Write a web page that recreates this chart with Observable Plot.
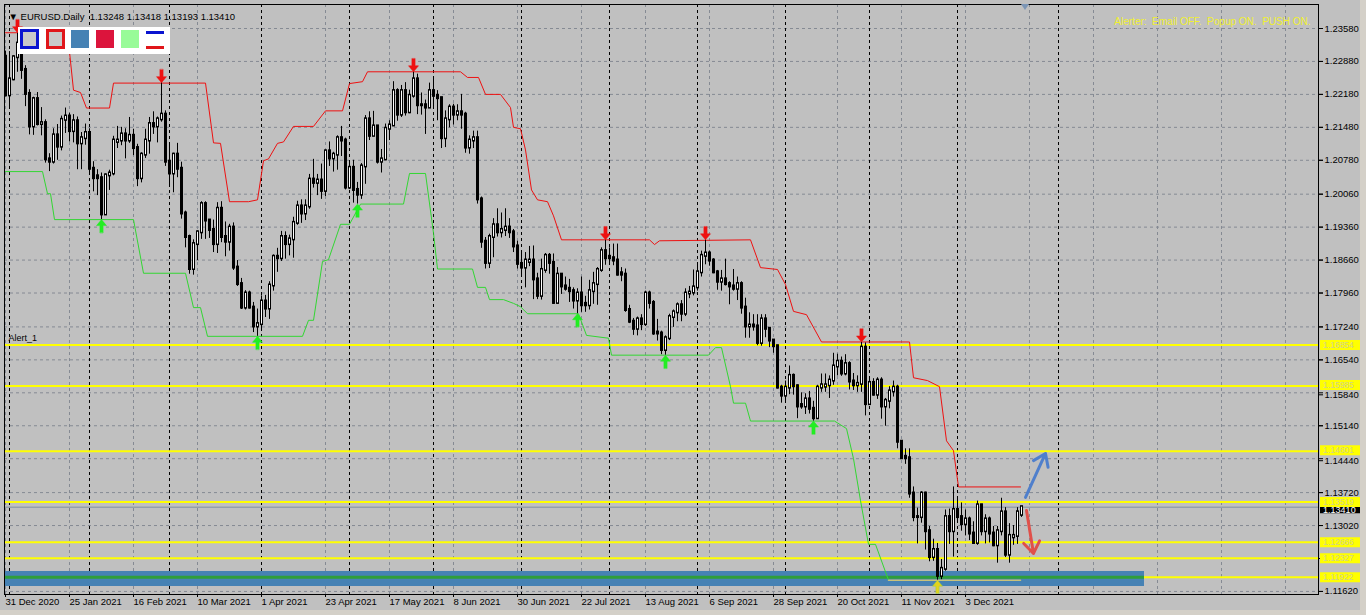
<!DOCTYPE html>
<html><head><meta charset="utf-8">
<script src="https://cdn.jsdelivr.net/npm/d3@7"></script>
<script src="https://cdn.jsdelivr.net/npm/@observablehq/plot@0.6"></script>
<style>
html,body{margin:0;padding:0;background:#c0c0c0;overflow:hidden}
#wrap{position:relative;width:1366px;height:615px}
#wrap svg{display:block}
.ov{position:absolute;box-sizing:border-box}
</style></head><body><div id="wrap"></div>
<script>
// ---- data (EURUSD Daily, bar index 0 = 31 Dec 2020) ----
const opens = [
1.2298,1.2216,1.2250,1.2297,1.2326,1.2270,1.2219,1.2150,1.2208,1.2155,
1.2157,1.2080,1.2075,1.2131,1.2107,1.2164,1.2171,1.2140,1.2161,1.2114,
1.2125,1.2136,1.2060,1.2044,1.2040,1.1963,1.2046,1.2050,1.2117,1.2120,
1.2133,1.2120,1.2130,1.2104,1.2040,1.2090,1.2120,1.2155,1.2150,1.2165,
1.2175,1.2075,1.2050,1.2090,1.2060,1.1965,1.1915,1.1847,1.1900,1.1925,
1.1985,1.1950,1.1930,1.1900,1.1975,1.1915,1.1905,1.1935,1.1850,1.1815,
1.1765,1.1795,1.1765,1.1725,1.1730,1.1778,1.1763,1.1812,1.1873,1.1870,
1.1915,1.1900,1.1910,1.1945,1.1980,1.1965,1.1980,1.2037,1.2030,1.2035,
1.2013,1.2097,1.2082,1.2090,1.2125,1.2120,1.2020,1.2062,1.2015,1.2005,
1.2065,1.2165,1.2130,1.2150,1.2075,1.2080,1.2145,1.2152,1.2225,1.2175,
1.2225,1.2180,1.2215,1.2250,1.2195,1.2195,1.2190,1.2225,1.2215,1.2210,
1.2125,1.2165,1.2190,1.2175,1.2180,1.2175,1.2105,1.2120,1.2125,1.1995,
1.1905,1.1860,1.1915,1.1940,1.1925,1.1930,1.1935,1.1925,1.1895,1.1858,
1.1850,1.1862,1.1865,1.1825,1.1790,1.1845,1.1875,1.1860,1.1775,1.1835,
1.1810,1.1805,1.1800,1.1780,1.1795,1.1773,1.1770,1.1800,1.1815,1.1845,
1.1885,1.1873,1.1870,1.1865,1.1838,1.1835,1.1760,1.1735,1.1720,1.1740,
1.1730,1.1795,1.1775,1.1712,1.1710,1.1675,1.1700,1.1745,1.1755,1.1770,
1.1752,1.1795,1.1797,1.1808,1.1840,1.1875,1.1880,1.1865,1.1840,1.1820,
1.1825,1.1815,1.1810,1.1805,1.1815,1.1765,1.1725,1.1727,1.1725,1.1690,
1.1740,1.1720,1.1695,1.1683,1.1595,1.1578,1.1595,1.1620,1.1598,1.1558,
1.1555,1.1570,1.1550,1.1530,1.1595,1.1597,1.1600,1.1610,1.1640,1.1650,
1.1625,1.1645,1.1608,1.1600,1.1603,1.1680,1.1560,1.1605,1.1580,1.1610,
1.1555,1.1567,1.1587,1.1595,1.1480,1.1448,1.1445,1.1370,1.1320,1.1320,
1.1370,1.1290,1.1235,1.1250,1.1195,1.1210,1.1320,1.1290,1.1335,1.1320,
1.1305,1.1315,1.1285,1.1265,1.1345,1.1290,1.1315,1.1285,1.1260,1.1290,
1.1330,1.1240,1.1277,1.1280,1.13248];
const highs = [
1.2310,1.2309,1.2300,1.2349,1.2344,1.2279,1.2228,1.2212,1.2222,1.2190,
1.2164,1.2092,1.2145,1.2154,1.2172,1.2189,1.2178,1.2175,1.2170,1.2137,
1.2155,1.2145,1.2075,1.2058,1.2051,1.2049,1.2057,1.2129,1.2150,1.2148,
1.2145,1.2169,1.2144,1.2112,1.2094,1.2144,1.2169,1.2181,1.2170,1.2243,
1.2183,1.2113,1.2093,1.2114,1.2074,1.1970,1.1919,1.1909,1.1928,1.1990,
1.1990,1.1952,1.1951,1.1988,1.1990,1.1947,1.1942,1.1945,1.1865,1.1827,
1.1801,1.1800,1.1776,1.1762,1.1790,1.1791,1.1820,1.1877,1.1891,1.1927,
1.1926,1.1919,1.1957,1.1991,1.1994,1.1994,1.2048,1.2080,1.2048,1.2070,
1.2100,1.2117,1.2095,1.2130,1.2150,1.2125,1.2076,1.2078,1.2031,1.2071,
1.2173,1.2181,1.2182,1.2152,1.2101,1.2155,1.2162,1.2245,1.2230,1.2237,
1.2243,1.2227,1.2266,1.2261,1.2221,1.2206,1.2242,1.2254,1.2226,1.2212,
1.2183,1.2196,1.2197,1.2196,1.2218,1.2180,1.2130,1.2140,1.2140,1.2000,
1.1914,1.1921,1.1954,1.1975,1.1966,1.1975,1.1954,1.1931,1.1906,1.1880,
1.1882,1.1895,1.1896,1.1838,1.1868,1.1880,1.1880,1.1879,1.1850,1.1837,
1.1830,1.1825,1.1807,1.1805,1.1830,1.1789,1.1823,1.1840,1.1850,1.1892,
1.1909,1.1892,1.1900,1.1900,1.1850,1.1847,1.1770,1.1742,1.1745,1.1750,
1.1800,1.1800,1.1780,1.1740,1.1715,1.1705,1.1751,1.1760,1.1775,1.1780,
1.1805,1.1810,1.1845,1.1857,1.1885,1.1909,1.1885,1.1869,1.1844,1.1844,
1.1868,1.1820,1.1846,1.1830,1.1820,1.1785,1.1754,1.1750,1.1750,1.1750,
1.1750,1.1722,1.1697,1.1685,1.1600,1.1609,1.1641,1.1624,1.1601,1.1584,
1.1582,1.1587,1.1566,1.1600,1.1624,1.1624,1.1620,1.1668,1.1666,1.1660,
1.1665,1.1650,1.1625,1.1620,1.1692,1.1690,1.1616,1.1614,1.1616,1.1616,
1.1572,1.1597,1.1609,1.1600,1.1482,1.1465,1.1465,1.1384,1.1339,1.1374,
1.1373,1.1300,1.1273,1.1264,1.1230,1.1335,1.1337,1.1384,1.1361,1.1350,
1.1335,1.1320,1.1310,1.1354,1.1347,1.1325,1.1320,1.1300,1.1300,1.1360,
1.1340,1.1306,1.1302,1.1340,1.13418];
const lows = [
1.2213,1.2190,1.2247,1.2265,1.2250,1.2192,1.2132,1.2131,1.2151,1.2130,
1.2072,1.2054,1.2070,1.2078,1.2098,1.2135,1.2117,1.2115,1.2058,1.2058,
1.2110,1.2050,1.2011,1.2003,1.1952,1.1962,1.2014,1.2045,1.2103,1.2109,
1.2081,1.2114,1.2088,1.2022,1.2030,1.2082,1.2091,1.2133,1.2115,1.2159,
1.2065,1.2025,1.2009,1.2041,1.1953,1.1892,1.1836,1.1834,1.1865,1.1910,
1.1910,1.1912,1.1882,1.1880,1.1903,1.1873,1.1885,1.1844,1.1810,1.1761,
1.1760,1.1762,1.1712,1.1704,1.1720,1.1744,1.1740,1.1800,1.1840,1.1863,
1.1868,1.1875,1.1870,1.1940,1.1944,1.1950,1.1974,1.2019,1.2003,1.1995,
1.2001,1.2065,1.2053,1.2057,1.2086,1.2015,1.2016,1.1987,1.1985,1.1995,
1.2027,1.2120,1.2128,1.2070,1.2051,1.2077,1.2120,1.2150,1.2161,1.2169,
1.2172,1.2177,1.2210,1.2175,1.2174,1.2133,1.2190,1.2192,1.2162,1.2103,
1.2105,1.2147,1.2153,1.2162,1.2144,1.2093,1.2091,1.2103,1.1985,1.1891,
1.1847,1.1848,1.1871,1.1915,1.1913,1.1916,1.1912,1.1882,1.1847,1.1835,
1.1807,1.1852,1.1782,1.1782,1.1781,1.1838,1.1836,1.1772,1.1773,1.1793,
1.1800,1.1776,1.1762,1.1752,1.1755,1.1755,1.1760,1.1772,1.1770,1.1840,
1.1855,1.1858,1.1854,1.1832,1.1820,1.1755,1.1731,1.1706,1.1705,1.1716,
1.1725,1.1762,1.1706,1.1694,1.1665,1.1664,1.1695,1.1723,1.1735,1.1735,
1.1746,1.1784,1.1790,1.1800,1.1830,1.1856,1.1853,1.1837,1.1802,1.1800,
1.1811,1.1771,1.1800,1.1780,1.1751,1.1700,1.1700,1.1715,1.1684,1.1683,
1.1701,1.1680,1.1668,1.1592,1.1562,1.1562,1.1580,1.1579,1.1529,1.1549,
1.1538,1.1539,1.1524,1.1530,1.1585,1.1585,1.1572,1.1600,1.1620,1.1619,
1.1620,1.1590,1.1589,1.1585,1.1585,1.1535,1.1560,1.1577,1.1570,1.1528,
1.1513,1.1550,1.1575,1.1465,1.1443,1.1432,1.1360,1.1310,1.1263,1.1307,
1.1250,1.1225,1.1226,1.1186,1.1187,1.1205,1.1262,1.1235,1.1310,1.1290,
1.1280,1.1270,1.1262,1.1260,1.1280,1.1263,1.1265,1.1257,1.1222,1.1280,
1.1234,1.1222,1.1260,1.1262,1.13193];
const closes = [
1.2216,1.2250,1.2297,1.2326,1.2270,1.2219,1.2150,1.2208,1.2155,1.2157,
1.2080,1.2075,1.2131,1.2107,1.2164,1.2171,1.2140,1.2161,1.2114,1.2125,
1.2136,1.2060,1.2040,1.2040,1.1963,1.2046,1.2050,1.2120,1.2120,1.2133,
1.2120,1.2130,1.2104,1.2040,1.2090,1.2120,1.2155,1.2150,1.2165,1.2175,
1.2075,1.2050,1.2090,1.2060,1.1965,1.1915,1.1847,1.1900,1.1925,1.1985,
1.1950,1.1930,1.1900,1.1975,1.1915,1.1905,1.1935,1.1850,1.1815,1.1765,
1.1795,1.1765,1.1725,1.1730,1.1778,1.1763,1.1812,1.1873,1.1870,1.1915,
1.1900,1.1910,1.1945,1.1980,1.1965,1.1980,1.2037,1.2030,1.2035,1.2013,
1.2097,1.2082,1.2090,1.2125,1.2120,1.2020,1.2062,1.2015,1.2005,1.2065,
1.2165,1.2130,1.2150,1.2075,1.2080,1.2145,1.2152,1.2225,1.2175,1.2225,
1.2180,1.2215,1.2250,1.2195,1.2195,1.2190,1.2225,1.2215,1.2210,1.2125,
1.2165,1.2190,1.2175,1.2180,1.2175,1.2105,1.2120,1.2125,1.1995,1.1905,
1.1860,1.1915,1.1940,1.1925,1.1930,1.1935,1.1925,1.1895,1.1858,1.1850,
1.1865,1.1865,1.1825,1.1790,1.1845,1.1875,1.1860,1.1775,1.1835,1.1810,
1.1805,1.1800,1.1780,1.1795,1.1770,1.1770,1.1800,1.1815,1.1845,1.1885,
1.1870,1.1870,1.1865,1.1835,1.1835,1.1760,1.1735,1.1720,1.1740,1.1730,
1.1795,1.1775,1.1710,1.1710,1.1675,1.1700,1.1745,1.1755,1.1770,1.1752,
1.1795,1.1797,1.1808,1.1840,1.1875,1.1880,1.1865,1.1840,1.1820,1.1825,
1.1815,1.1810,1.1805,1.1815,1.1765,1.1725,1.1727,1.1725,1.1690,1.1740,
1.1720,1.1695,1.1683,1.1595,1.1578,1.1595,1.1620,1.1598,1.1555,1.1555,
1.1570,1.1550,1.1530,1.1595,1.1600,1.1600,1.1610,1.1640,1.1650,1.1625,
1.1645,1.1608,1.1600,1.1603,1.1680,1.1560,1.1605,1.1580,1.1610,1.1555,
1.1567,1.1587,1.1595,1.1480,1.1445,1.1445,1.1370,1.1320,1.1320,1.1370,
1.1290,1.1235,1.1250,1.1195,1.1210,1.1320,1.1290,1.1335,1.1320,1.1305,
1.1315,1.1285,1.1265,1.1345,1.1290,1.1315,1.1285,1.1260,1.1290,1.1330,
1.1240,1.1280,1.1280,1.1330,1.13410];

// upper (red) and lower (green) channel vertices [bar index, price]
const upperLine = [[0,1.2349],[15.5,1.2349],[17,1.2227],[18.75,1.2222],[20.25,1.2189],[26,1.2189],[27,1.2242],[50,1.2242],[52,1.2115],[53.75,1.2114],[56,1.1990],[60.75,1.1990],[63,1.1994],[64.5,1.2077],[65.75,1.2081],[68,1.2114],[69.5,1.2117],[72,1.2150],[77,1.2150],[80,1.2183],[84.25,1.2183],[86,1.2241],[89.25,1.2245],[90.5,1.2266],[113.75,1.2266],[115.5,1.2254],[118.25,1.2254],[120,1.2218],[123.75,1.2218],[126.25,1.2190],[127,1.2148],[128.75,1.2145],[130,1.2100],[131.5,1.2015],[133,1.1994],[135.5,1.1990],[137,1.1960],[139,1.1909],[161,1.1909],[162.25,1.1899],[163.5,1.1907],[186.25,1.1909],[188.75,1.1850],[193,1.1846],[195,1.1814],[197,1.1757],[200.25,1.1750],[204,1.1692],[226,1.1692],[227,1.1616],[230.5,1.1610],[233.5,1.1597],[235.25,1.1482],[237,1.1461],[238.25,1.1384],[253.75,1.1384]];
const lowerLine = [[0,1.2054],[9.25,1.2054],[10.5,1.2007],[11.25,1.2007],[12.25,1.1952],[32,1.1952],[34.5,1.1838],[45,1.1838],[47,1.1765],[48.75,1.1765],[50.5,1.1704],[74.25,1.1704],[75.75,1.1738],[77,1.1738],[79.25,1.1863],[80.75,1.1867],[83.75,1.1942],[86,1.1942],[88.75,1.1985],[99.5,1.1985],[101,1.2050],[105,1.2050],[107,1.1923],[108,1.1847],[116.75,1.1847],[118,1.1808],[120,1.1808],[121,1.1782],[124.5,1.1782],[127,1.1774],[128.75,1.1767],[130.5,1.1752],[143.25,1.1752],[145.25,1.1706],[150.75,1.1700],[151.5,1.1664],[175.75,1.1664],[177.5,1.1680],[179,1.1680],[181.25,1.1597],[182,1.1562],[185,1.1562],[186.25,1.1524],[207.25,1.1524],[210.25,1.1508],[212,1.1444],[213.75,1.1355],[215.75,1.1262],[217.5,1.1262],[220.75,1.1186]];
const lowerTail = [[220.75,1.1186],[253.75,1.1186]];

const peakIdx = [3, 39, 102, 150, 175, 214];
const troughIdx = [24, 63, 88, 143, 165, 202];
const lastTroughIdx = [233];

const levels = [1.16854, 1.15985, 1.14601, 1.13519, 1.12666, 1.12327, 1.11922];
const zone = {i1: 0, i2: 284.75, p1: 1.12044, p2: 1.11725};
const trendArrows = [
  {i1: 255, p1: 1.13616, i2: 260, p2: 1.14551, color: "#4f7fcc"},
  {i1: 255.25, p1: 1.13340, i2: 257, p2: 1.12427, color: "#e0504a"}
];

const yTicks = [1.23580,1.22880,1.22180,1.21480,1.20780,1.20060,1.19360,1.18660,1.17960,1.17240,1.16540,1.15840,1.15140,1.14440,1.13720,1.13020,1.12320,1.11620];
const yTickLabels = [1.23580,1.22880,1.22180,1.21480,1.20780,1.20060,1.19360,1.18660,1.17960,1.17240,1.16540,1.15140,1.13720,1.13020,1.11620];
const yTickLabelsCrowded = [1.15840,1.14440];
const xTickIdx = [0,16,32,48,64,80,96,112,128,144,160,176,192,208,224,240];
const xLabels = ["31 Dec 2020","25 Jan 2021","16 Feb 2021","10 Mar 2021","1 Apr 2021","23 Apr 2021","17 May 2021","8 Jun 2021","30 Jun 2021","22 Jul 2021","13 Aug 2021","6 Sep 2021","28 Sep 2021","20 Oct 2021","11 Nov 2021","3 Dec 2021"];
const gridIdx = [0,16,32,48,64,80,96,112,128,144,160,176,192,208,224,240,256,272,288,304,320];
const monthIdx = [1,21,41,64,86,107,129,151,173,195,216,238,263.25];

const xDomain = [-0.25, 328.25];
const yDomain = [1.11555, 1.24090];

// ---- build ----
const bars = closes.map((c, i) => ({i, o: opens[i], h: highs[i], l: lows[i], c}));
const bulls = bars.filter(d => d.c > d.o);
const last = bars[bars.length - 1];
const f5 = d3.format(".5f");
const labelMap = new Map(xTickIdx.map((v, k) => [v, xLabels[k]]));
const levelsA = levels.filter(v => v !== 1.15985 && v !== 1.14601);
const levelsB = [1.15985, 1.14601];

const fatArrow = {
  draw(ctx, l) {
    const w = 1.6, hw = 5, hl = 6;
    ctx.moveTo(-w, 0);
    ctx.lineTo(-w, -l + hl);
    ctx.lineTo(-hw, -l + hl);
    ctx.lineTo(0, -l);
    ctx.lineTo(hw, -l + hl);
    ctx.lineTo(w, -l + hl);
    ctx.lineTo(w, 0);
    ctx.closePath();
  }
};

const labelBox = (vals, dy) => [
  Plot.ruleY(vals, {y: d => d, x1: 328.75, x2: 339, stroke: "#ffff00", strokeWidth: 10, dy}),
  Plot.text(vals, {x: 329.4, y: d => d, text: f5, textAnchor: "start", fill: "#d2d28a", fontSize: 8.5, dy})
];

const grid = "#858a93";
const chart = Plot.plot({
  width: 1366, height: 615,
  marginLeft: 4, marginRight: 48, marginTop: 4, marginBottom: 21,
  x: {domain: xDomain, axis: null},
  y: {domain: yDomain, axis: null},
  style: {background: "#c0c0c0", color: "black", fontFamily: "'Liberation Sans', Arial, sans-serif", fontSize: "10px", overflow: "visible"},
  marks: [
    Plot.ruleX(gridIdx, {x: d => d, stroke: grid, strokeDasharray: "3,3"}),
    Plot.ruleY(yTicks, {y: d => d, stroke: grid, strokeDasharray: "3,3"}),
    Plot.ruleX(monthIdx, {x: d => d, stroke: "black", strokeDasharray: "3,3"}),
    Plot.ruleY(levels, {y: d => d, stroke: "#ffff00", strokeWidth: 2}),
    Plot.rect([zone], {x1: "i1", x2: "i2", y1: "p1", y2: "p2", fill: "#4682b4"}),
    Plot.ruleY([levels[6]], {y: d => d, x1: zone.i1, x2: zone.i2, stroke: "#2f9e3a", strokeWidth: 3}),
    Plot.ruleY([last.c], {y: d => d, stroke: "#7f8ea0"}),
    Plot.line(upperLine, {x: d => d[0], y: d => d[1], stroke: "#ee1111", strokeWidth: 1}),
    Plot.line(lowerLine, {x: d => d[0], y: d => d[1], stroke: "#33d633", strokeWidth: 1}),
    Plot.line(lowerTail, {x: d => d[0], y: d => d[1], stroke: "#c9c27a", strokeWidth: 1.5}),
    Plot.ruleX(bars, {x: "i", y1: "l", y2: "h", stroke: "black"}),
    Plot.ruleX(bars, {x: "i", y1: "o", y2: "c", stroke: "black", strokeWidth: 3, strokeLinecap: "square"}),
    Plot.ruleX(bulls, {x: "i", y1: "o", y2: "c", stroke: "white", strokeWidth: 1}),
    Plot.vector(peakIdx, {x: d => d, y: d => highs[d], length: 13, rotate: 180, anchor: "end", shape: fatArrow, fill: "#ee1111", stroke: "#ee1111", strokeWidth: 0.5}),
    Plot.vector(troughIdx, {x: d => d, y: d => lows[d], length: 13, rotate: 0, anchor: "end", shape: fatArrow, fill: "#22ee22", stroke: "#22ee22", strokeWidth: 0.5}),
    Plot.vector(lastTroughIdx, {x: d => d, y: d => lows[d], length: 13, rotate: 0, anchor: "end", shape: fatArrow, fill: "#e2d21e", stroke: "#9bd23c", strokeWidth: 0.5}),
    Plot.arrow(trendArrows, {x1: "i1", y1: "p1", x2: "i2", y2: "p2", stroke: "color", strokeWidth: 3, headLength: 7, headAngle: 70}),
    Plot.text(["Alert_1"], {x: 0.75, y: levels[0], dy: -7, text: d => d, textAnchor: "start", fontSize: 9}),
    Plot.frame({stroke: "black"}),
    Plot.axisY(yTicks, {anchor: "right", tickSize: 4, text: null}),
    Plot.axisY(yTickLabels, {anchor: "right", tickSize: 4, tickPadding: 2, tickFormat: f5, fontSize: 9.5}),
    Plot.axisY(yTickLabelsCrowded, {anchor: "right", tickSize: 4, tickPadding: 2, tickFormat: f5, fontSize: 9.5, dy: 2}),
    Plot.axisX(xTickIdx, {anchor: "bottom", tickSize: 3, tickPadding: 1, tickFormat: d => labelMap.get(d), textAnchor: "start", fontSize: 9.5}),
    Plot.ruleY([last.c], {y: d => d, x1: 328.75, x2: 339, stroke: "black", strokeWidth: 9, dy: 1.5}),
    Plot.text([last.c], {x: 329.4, y: d => d, text: f5, textAnchor: "start", fill: "white", fontSize: 9, dy: 2.5}),
    ...labelBox(levelsA, 0),
    ...labelBox(levelsB, -1),
    Plot.text(["\u25BC EURUSD.Daily  " + [last.o, last.h, last.l, last.c].map(f5).join(" ")], {frameAnchor: "top-left", dx: 4, dy: 9, text: d => d, textAnchor: "start", fontSize: 9.5}),
    Plot.text(["Alerter:  Email OFF.  Popup ON.  PUSH ON."], {frameAnchor: "top-right", dx: -8, dy: 13, text: d => d, textAnchor: "end", fill: "#f0f030", fontSize: 10})
  ]
});
const wrap = document.getElementById("wrap");
wrap.appendChild(chart);

// chart UI overlays (button panel, shift marker, window edge)
const ov = [
  ["left:18px;top:27px;width:152px;height:27px;background:#ffffff"],
  ["left:20px;top:29px;width:19px;height:20px;border:3px solid #0a14d0;background:#c9c9c9"],
  ["left:46px;top:29px;width:19px;height:20px;border:3px solid #e0161a;background:#c9c9c9"],
  ["left:71px;top:30px;width:18px;height:18px;background:#4682b4"],
  ["left:96px;top:30px;width:18px;height:18px;background:#dc143c"],
  ["left:121px;top:30px;width:18px;height:18px;background:#98fb98"],
  ["left:146px;top:31px;width:18px;height:3px;background:#0a14d0"],
  ["left:146px;top:46px;width:18px;height:3px;background:#e0161a"],
  ["left:1360px;top:0;width:6px;height:615px;background:#d4d0c8"],
  ["left:0;top:610px;width:1366px;height:5px;background:#d4d0c8"]
];
for (const [css] of ov) {
  const d = document.createElement("div");
  d.className = "ov";
  d.style.cssText = css;
  wrap.appendChild(d);
}
const tri = document.createElement("div");
tri.className = "ov";
tri.style.cssText = "left:1021px;top:4px;width:0;height:0;border-left:4px solid transparent;border-right:4px solid transparent;border-top:6px solid #7b95b5";
wrap.appendChild(tri);
</script></body></html>
